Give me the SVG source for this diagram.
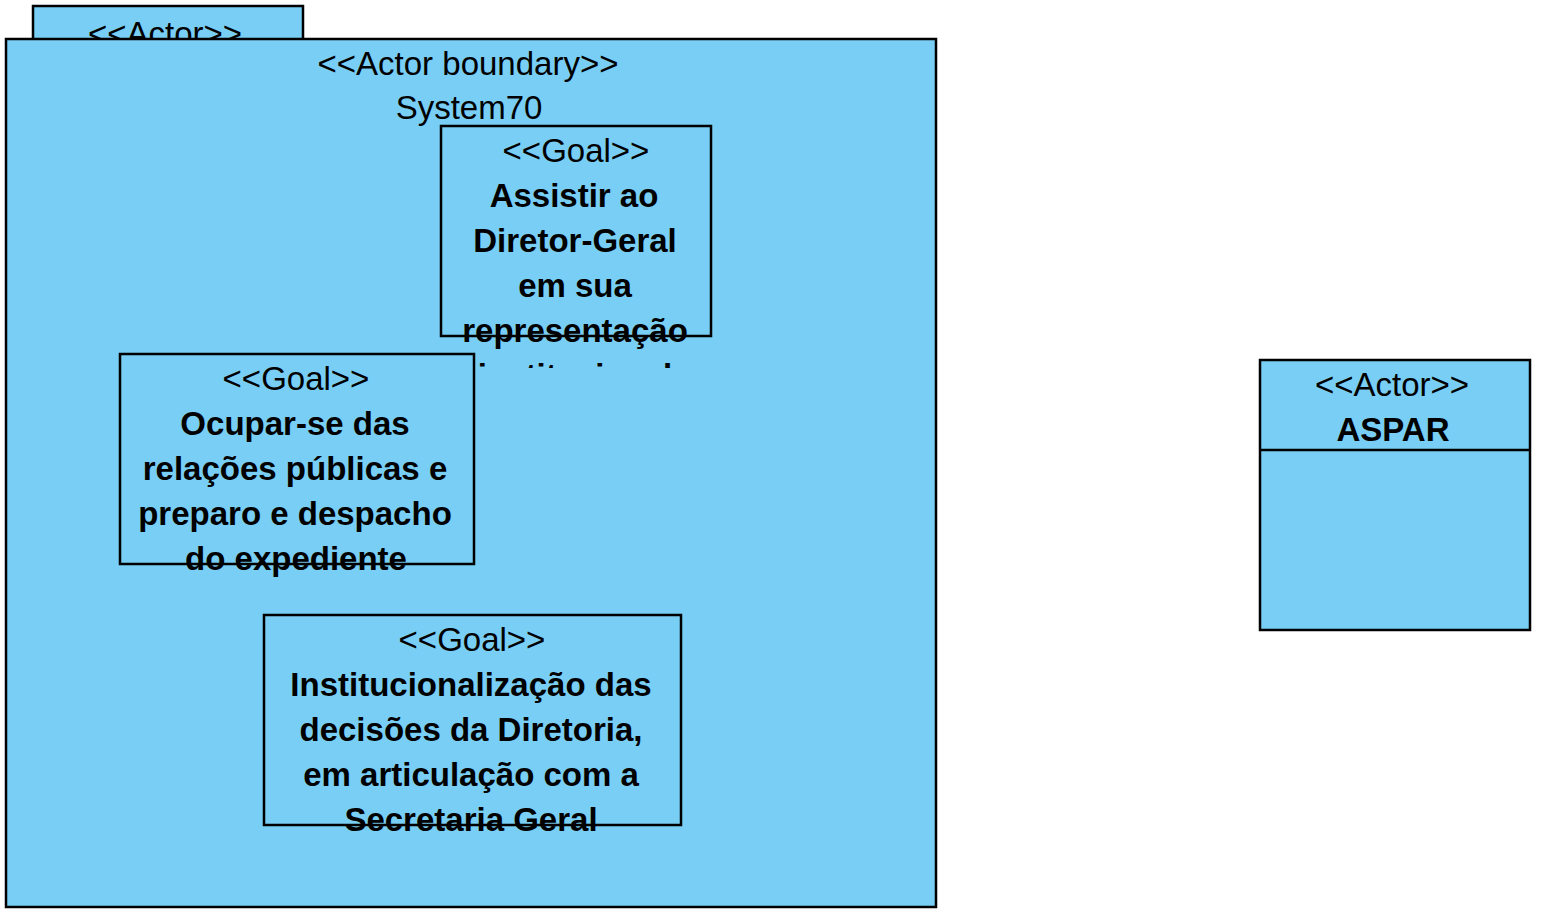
<svg xmlns="http://www.w3.org/2000/svg" width="1542" height="921" viewBox="0 0 1542 921">
<style>
.box{fill:#78CEF4;stroke:#000;stroke-width:2.5}
.t{font-family:"Liberation Sans",Arial,sans-serif;font-size:33px;fill:#000;text-anchor:middle}
.b{font-weight:bold}
</style>
<defs>
<clipPath id="c1"><rect x="441" y="126" width="270" height="242"/></clipPath>
<clipPath id="c2"><rect x="120" y="354" width="354" height="243"/></clipPath>
<clipPath id="c3"><rect x="264" y="615" width="417" height="244"/></clipPath>
<clipPath id="ca"><rect x="33" y="6" width="270" height="34"/></clipPath>
</defs>
<rect width="1542" height="921" fill="#fff"/>
<g id="actor-top">
<rect class="box" x="33" y="6" width="270" height="60"/>
<g clip-path="url(#ca)"><text class="t" x="165" y="45">&lt;&lt;Actor&gt;&gt;</text></g>
</g>
<g id="boundary">
<rect class="box" x="6" y="39" width="930" height="868"/>
<text class="t" x="468" y="75">&lt;&lt;Actor boundary&gt;&gt;</text>
<text class="t" x="469" y="119">System70</text>
</g>
<g id="goal1">
<rect class="box" x="441" y="126" width="270" height="210"/>
<g clip-path="url(#c1)">
<text class="t" x="576" y="162">&lt;&lt;Goal&gt;&gt;</text>
<text class="t b" x="574" y="207">Assistir ao</text>
<text class="t b" x="575" y="252">Diretor-Geral</text>
<text class="t b" x="575" y="297">em sua</text>
<text class="t b" x="575" y="342">representação</text>
<text class="t b" x="575" y="387">institucional</text>
</g>
</g>
<g id="goal2">
<rect class="box" x="120" y="354" width="354" height="210"/>
<g clip-path="url(#c2)">
<text class="t" x="296" y="390">&lt;&lt;Goal&gt;&gt;</text>
<text class="t b" x="295" y="435">Ocupar-se das</text>
<text class="t b" x="295" y="480">relações públicas e</text>
<text class="t b" x="295" y="525">preparo e despacho</text>
<text class="t b" x="296" y="570">do expediente</text>
</g>
</g>
<g id="goal3">
<rect class="box" x="264" y="615" width="417" height="210"/>
<g clip-path="url(#c3)">
<text class="t" x="472" y="651">&lt;&lt;Goal&gt;&gt;</text>
<text class="t b" x="471" y="696">Institucionalização das</text>
<text class="t b" x="471" y="741">decisões da Diretoria,</text>
<text class="t b" x="471" y="786">em articulação com a</text>
<text class="t b" x="471" y="831">Secretaria Geral</text>
</g>
</g>
<g id="aspar">
<rect class="box" x="1260" y="360" width="270" height="270"/>
<line x1="1260" y1="450" x2="1530" y2="450" stroke="#000" stroke-width="2.5"/>
<text class="t" x="1392" y="396">&lt;&lt;Actor&gt;&gt;</text>
<text class="t b" x="1393" y="441">ASPAR</text>
</g>
<g id="connectors"/>
</svg>
